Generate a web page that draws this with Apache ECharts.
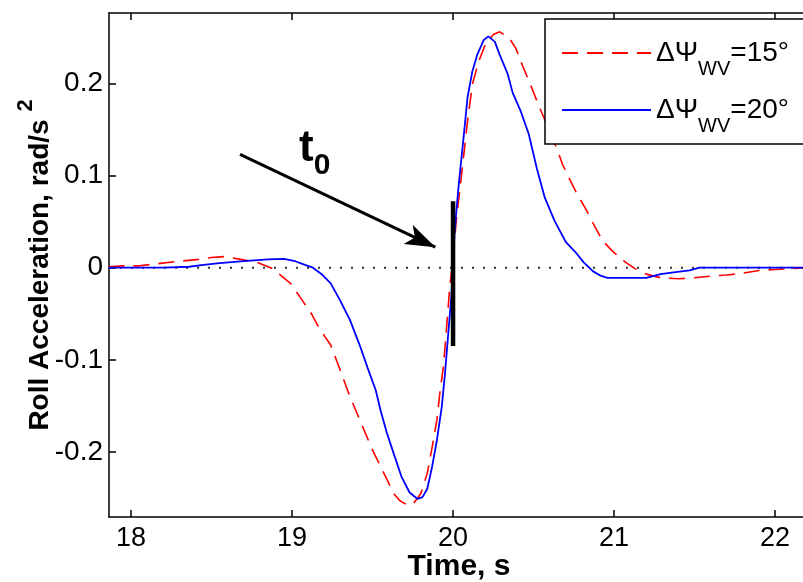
<!DOCTYPE html>
<html><head><meta charset="utf-8">
<script src="https://cdn.jsdelivr.net/npm/echarts@6/dist/echarts.min.js"></script>
<style>html,body{margin:0;padding:0;background:#fff}#c{width:803px;height:582px}</style>
</head><body><div id="c"></div>
<script>
// Data
const timeRed = [17.86, 17.95, 18.05, 18.15, 18.3, 18.42, 18.5, 18.58, 18.68, 18.78, 18.88, 18.99, 19.05, 19.12, 19.17, 19.24, 19.29, 19.36, 19.42, 19.50, 19.59, 19.63, 19.67, 19.71, 19.75, 19.80, 19.84, 19.87, 19.90, 19.92, 19.94, 19.96, 19.98, 20.0, 20.02, 20.06, 20.09, 20.12, 20.16, 20.2, 20.25, 20.29, 20.35, 20.39, 20.43, 20.48, 20.53, 20.59, 20.65, 20.68, 20.73, 20.77, 20.83, 20.87, 20.93, 20.99, 21.07, 21.13, 21.2, 21.29, 21.4, 21.5, 21.61, 21.7, 21.8, 21.9, 22.0, 22.1, 22.22];
const accRed = [0.001, 0.002, 0.002, 0.004, 0.007, 0.009, 0.011, 0.012, 0.009, 0.006, -0.001, -0.017, -0.032, -0.05, -0.066, -0.084, -0.107, -0.14, -0.165, -0.198, -0.23, -0.245, -0.253, -0.257, -0.257, -0.245, -0.223, -0.195, -0.165, -0.133, -0.108, -0.065, -0.02, 0.01, 0.051, 0.112, 0.159, 0.199, 0.224, 0.242, 0.253, 0.256, 0.249, 0.238, 0.22, 0.199, 0.177, 0.152, 0.127, 0.112, 0.094, 0.08, 0.062, 0.048, 0.029, 0.018, 0.006, -0.001, -0.007, -0.011, -0.012, -0.011, -0.009, -0.008, -0.006, -0.003, -0.002, -0.001, 0];
const timeBlue = [17.86, 18.0, 18.2, 18.36, 18.45, 18.55, 18.7, 18.85, 18.95, 19.02, 19.08, 19.13, 19.19, 19.24, 19.30, 19.36, 19.42, 19.47, 19.52, 19.55, 19.59, 19.63, 19.68, 19.73, 19.78, 19.81, 19.84, 19.87, 19.90, 19.93, 19.95, 19.97, 19.99, 20.01, 20.03, 20.045, 20.06, 20.075, 20.09, 20.12, 20.15, 20.19, 20.22, 20.26, 20.29, 20.34, 20.37, 20.42, 20.47, 20.52, 20.57, 20.63, 20.70, 20.76, 20.81, 20.87, 20.92, 20.96, 21.05, 21.2, 21.29, 21.37, 21.47, 21.53, 21.8, 22.22];
const accBlue = [0, 0, 0, 0.001, 0.003, 0.005, 0.007, 0.009, 0.0095, 0.007, 0.003, 0, -0.008, -0.017, -0.036, -0.057, -0.084, -0.109, -0.133, -0.155, -0.18, -0.201, -0.227, -0.244, -0.251, -0.249, -0.24, -0.216, -0.187, -0.151, -0.115, -0.072, -0.03, 0.04, 0.08, 0.107, 0.132, 0.158, 0.185, 0.213, 0.231, 0.247, 0.251, 0.245, 0.231, 0.21, 0.19, 0.17, 0.145, 0.108, 0.076, 0.051, 0.028, 0.017, 0.006, -0.004, -0.009, -0.011, -0.011, -0.011, -0.007, -0.005, -0.003, 0, 0, 0];
const seriesNames = ['15', '20'];
const xTicks = [18, 19, 20, 21, 22];
const yTicks = [-0.2, -0.1, 0, 0.1, 0.2];
const xRange = [17.863, 22.211];
const yRange = [-0.2706, 0.2764];
const t0Time = 20;
const t0Span = [0.072, -0.085];
const arrowFrom = [18.677, 0.123];
const arrowTo = [19.890, 0.0223];

const zip = (xs, ys) => xs.map((x, i) => [x, ys[i]]);
const FONT = '"Liberation Sans", Arial, Helvetica, sans-serif';

const chart = echarts.init(document.getElementById('c'), null, {renderer: 'canvas'});
const axisLineStyle = {color: '#000', width: 1.5};
chart.setOption({
  animation: false,
  backgroundColor: '#fff',
  textStyle: {fontFamily: FONT},
  grid: {left: 109, top: 13, width: 700, height: 504, containLabel: false, outerBoundsMode: 'none'},
  legend: {
    data: seriesNames,
    orient: 'vertical',
    left: 545, top: 19,
    padding: [8, 30, 8, 16],
    itemGap: 5,
    itemWidth: 89, itemHeight: 14,
    backgroundColor: '#fff',
    borderColor: '#000', borderWidth: 1.5,
    selectedMode: false,
    z: 10,
    itemStyle: {opacity: 0},
    formatter: n => '{m|ΔΨ}{s|WV}{m|=' + n + '°}',
    textStyle: {
      fontFamily: FONT, color: '#000',
      rich: {
        m: {fontSize: 28, lineHeight: 30, fontFamily: FONT, color: '#000'},
        s: {fontSize: 20, lineHeight: 30, padding: [32, 0, 0, 0], fontFamily: FONT, color: '#000'}
      }
    }
  },
  xAxis: [{
    type: 'value', min: xRange[0], max: xRange[1], position: 'bottom',
    axisLine: {show: true, onZero: false, lineStyle: axisLineStyle},
    axisTick: {show: true, inside: true, length: 7, customValues: xTicks, lineStyle: axisLineStyle},
    axisLabel: {customValues: xTicks, fontSize: 27, color: '#000', margin: 8, fontFamily: FONT},
    splitLine: {show: false},
    name: 'Time, s', nameLocation: 'middle', nameGap: 35, nameMoveOverlap: false,
    nameTextStyle: {fontSize: 30, fontWeight: 'bold', color: '#000', fontFamily: FONT}
  }, {
    type: 'value', min: xRange[0], max: xRange[1], position: 'top',
    axisLine: {show: true, onZero: false, lineStyle: axisLineStyle},
    axisTick: {show: true, inside: true, length: 7, customValues: xTicks, lineStyle: axisLineStyle},
    axisLabel: {show: false},
    splitLine: {show: false}
  }],
  yAxis: [{
    type: 'value', min: yRange[0], max: yRange[1], position: 'left',
    axisLine: {show: true, onZero: false, lineStyle: axisLineStyle},
    axisTick: {show: true, inside: true, length: 7, customValues: yTicks, lineStyle: axisLineStyle},
    axisLabel: {customValues: yTicks, fontSize: 28, color: '#000', margin: 6, fontFamily: FONT},
    splitLine: {show: false},
    name: 'Roll Acceleration, rad/s {sup|2}', nameLocation: 'middle', nameRotate: 90, nameGap: 53, nameMoveOverlap: false,
    nameTextStyle: {
      fontSize: 28, fontWeight: 'bold', color: '#000', fontFamily: FONT,
      rich: {
        sup: {fontSize: 22, fontWeight: 'bold', lineHeight: 32, padding: [0, 0, 28, 0], color: '#000', fontFamily: FONT}
      },
      lineHeight: 32
    }
  }],
  series: [{
    name: 'zero', type: 'line', silent: true, symbol: 'none',
    data: [[xRange[0], 0], [xRange[1], 0]],
    lineStyle: {color: '#333', width: 2, type: [2, 9]}, z: 1
  }, {
    name: seriesNames[0], type: 'line', symbol: 'none', showSymbol: false,
    data: zip(timeRed, accRed),
    color: '#ff0000',
    lineStyle: {color: '#ff0000', width: 1.6, type: [16, 9]}, z: 2
  }, {
    name: seriesNames[1], type: 'line', symbol: 'none', showSymbol: false,
    data: zip(timeBlue, accBlue),
    color: '#0000ff',
    lineStyle: {color: '#0000ff', width: 1.8}, z: 3
  }, {
    name: 't0', type: 'line', symbol: 'none', silent: true,
    data: [[t0Time, t0Span[0]], [t0Time, t0Span[1]]],
    lineStyle: {color: '#000', width: 4.5}, z: 5,
    markLine: {
      silent: true, symbol: ['none', 'none'],
      label: {show: false},
      lineStyle: {color: '#000', width: 3, type: 'solid'},
      data: [[{coord: arrowFrom}, {coord: arrowTo}]]
    },
    markPoint: {
      silent: true,
      label: {show: false},
      data: [{coord: arrowTo, symbol: 'arrow', symbolSize: [16, 30], symbolRotate: -115, itemStyle: {color: '#000'}}]
    }
  }],
  graphic: [{
    type: 'text', left: 299, top: 117, z: 20,
    style: {
      text: '{t|t}{o|0}',
      rich: {
        t: {fontSize: 44, fontWeight: 'bold', fontFamily: FONT, fill: '#000', lineHeight: 48},
        o: {fontSize: 30, fontWeight: 'bold', fontFamily: FONT, fill: '#000', lineHeight: 48, padding: [34, 0, 0, 0]}
      }
    }
  }]
});
</script></body></html>
